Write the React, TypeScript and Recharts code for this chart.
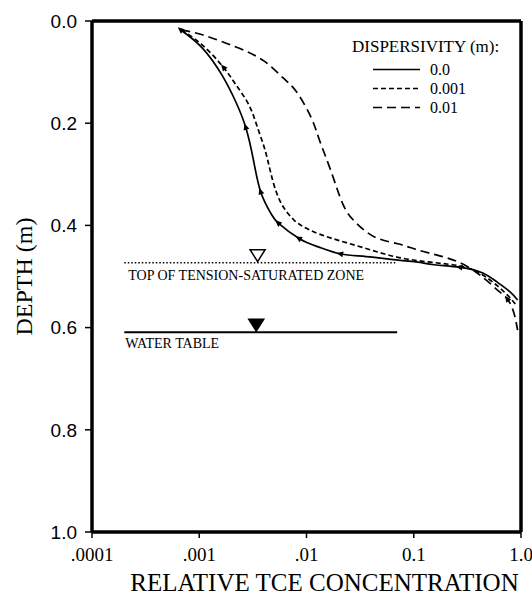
import {
  ComposedChart,
  Legend,
  Line,
  ReferenceLine,
  Scatter,
  XAxis,
  YAxis,
} from "recharts";

const SERIF = '"Liberation Serif", "Times New Roman", serif';
const SANS = '"Liberation Sans", Arial, sans-serif';

// axes
const xTicks = [0.0001, 0.001, 0.01, 0.1, 1];
const xTickLabels = [".0001", ".001", ".01", "0.1", "1.0"];
const yTicks = [0, 0.2, 0.4, 0.6, 0.8, 1.0];
const yTickLabels = ["0.0", "0.2", "0.4", "0.6", "0.8", "1.0"];

// dispersivity series (relative TCE concentration vs depth)
const seriesNames = ["0.0", "0.001", "0.01"];

const conc0 = [
  0.00068, 0.00107, 0.00163, 0.0022, 0.00272, 0.0032, 0.00375, 0.00464, 0.0055, 0.0086,
  0.0129, 0.021, 0.036, 0.071, 0.109, 0.156, 0.272, 0.44, 0.6, 0.79, 0.93,
];
const depth0 = [
  0.018, 0.053, 0.106, 0.159, 0.209, 0.272, 0.335, 0.376, 0.396, 0.426,
  0.442, 0.456, 0.461, 0.468, 0.472, 0.477, 0.482, 0.493, 0.511, 0.53, 0.546,
];
const arrows0 = [0, 4, 6, 8, 9, 11, 16];

const conc1 = [
  0.00068, 0.00107, 0.0017, 0.0022, 0.0029, 0.0035, 0.0041, 0.00464, 0.0056, 0.0076,
  0.0107, 0.017, 0.0344, 0.0697, 0.144, 0.29, 0.44, 0.6, 0.76, 0.92,
];
const depth1 = [
  0.018, 0.047, 0.092, 0.125, 0.164, 0.209, 0.252, 0.297, 0.35, 0.389,
  0.409, 0.425, 0.444, 0.462, 0.472, 0.481, 0.497, 0.518, 0.538, 0.558,
];
const arrows1 = [2];

const conc2 = [
  0.00068, 0.00107, 0.0022, 0.004, 0.0061, 0.0081, 0.0111, 0.0132, 0.017, 0.022, 0.029,
  0.0435, 0.071, 0.109, 0.178, 0.29, 0.45, 0.6, 0.75, 0.86, 0.93,
];
const depth2 = [
  0.018, 0.027, 0.051, 0.078, 0.112, 0.139, 0.19, 0.233, 0.295, 0.36, 0.395,
  0.423, 0.436, 0.448, 0.46, 0.476, 0.503, 0.526, 0.545, 0.572, 0.605,
];
const arrows2 = [18];

const dashes = [undefined, "5 3", "9 5"];

// water levels
const levelSpan = [0.0002, 0.07];
const tensionDepth = 0.473;
const waterDepth = 0.609;
const tensionMarkerConc = 0.0035;
const waterMarkerConc = 0.0034;
const tensionLabel = "TOP OF TENSION-SATURATED ZONE";
const waterLabel = "WATER TABLE";

const toRows = (c: number[], d: number[]) => c.map((v, i) => ({ conc: v, depth: d[i] }));

const series = [
  { rows: toRows(conc0, depth0), arrows: arrows0 },
  { rows: toRows(conc1, depth1), arrows: arrows1 },
  { rows: toRows(conc2, depth2), arrows: arrows2 },
];

const tensionRows = levelSpan.map((c) => ({ conc: c, depth: tensionDepth }));
const waterRows = levelSpan.map((c) => ({ conc: c, depth: waterDepth }));

const arrowDot = (marks: number[]) => (props: any) => {
  const { cx, cy, index, points } = props;
  if (!marks.includes(index) || cx == null) return <g key={`n-${index}`} />;
  const a = points?.[Math.min(index + 1, points.length - 1)] ?? { x: cx + 1, y: cy };
  const b = points?.[Math.max(index - 1, 0)] ?? { x: cx, y: cy };
  const ang = Math.atan2(b.y - a.y, b.x - a.x);
  const c = Math.cos(ang);
  const s = Math.sin(ang);
  const tip = [cx + c * 4.5, cy + s * 4.5];
  const l = [cx - c * 2 - s * 3, cy - s * 2 + c * 3];
  const r = [cx - c * 2 + s * 3, cy - s * 2 - c * 3];
  return (
    <polygon
      key={`a-${index}`}
      points={`${tip[0]},${tip[1]} ${l[0]},${l[1]} ${r[0]},${r[1]}`}
      fill="#000"
    />
  );
};

const downTriangle = (filled: boolean) => (props: any) => {
  const { cx, cy } = props;
  return (
    <path
      d={`M${cx},${cy - 1} L${cx - 7.5},${cy - 13} L${cx + 7.5},${cy - 13} Z`}
      fill={filled ? "#000" : "#fff"}
      stroke="#000"
      strokeWidth={1.5}
    />
  );
};

const levelText = (text: string, dx: number, dy: number) => (props: any) => (
  <text
    x={props.cx + dx}
    y={props.cy + dy}
    fontFamily={SERIF}
    fontSize={14}
    fill="#000"
  >
    {text}
  </text>
);

const renderLegend = () => (
  <div style={{ fontFamily: SERIF, color: "#000" }}>
    <div style={{ fontSize: 17, lineHeight: "19px", height: 19, whiteSpace: "nowrap" }}>
      DISPERSIVITY (m):
    </div>
    <div style={{ marginTop: 4 }}>
      {seriesNames.map((name, i) => (
        <div
          key={name}
          style={{ display: "flex", alignItems: "center", height: 19, paddingLeft: 21 }}
        >
          <svg width={47} height={19}>
            <line
              x1={0}
              x2={47}
              y1={9.5}
              y2={9.5}
              stroke="#000"
              strokeWidth={1.7}
              strokeDasharray={dashes[i]}
            />
          </svg>
          <span style={{ marginLeft: 10, fontSize: 16, lineHeight: "19px" }}>{name}</span>
        </div>
      ))}
    </div>
  </div>
);

export default function App() {
  return (
    <div style={{ position: "absolute", left: 0, top: 0, width: 532, height: 604, background: "#fff" }}>
      <ComposedChart width={532} height={604} margin={{ top: 21, right: 11, bottom: 0, left: 0 }}>
        <XAxis
          dataKey="conc"
          type="number"
          scale="log"
          domain={[0.0001, 1]}
          allowDataOverflow
          ticks={xTicks}
          interval={0}
          tickFormatter={(v) => xTickLabels[xTicks.indexOf(v)] ?? String(v)}
          height={72}
          tickSize={6}
          tickMargin={10}
          axisLine={{ stroke: "#000", strokeWidth: 3.5 }}
          tickLine={{ stroke: "#000", strokeWidth: 1.5 }}
          tick={{ fill: "#000", fontSize: 19, fontFamily: SERIF }}
          label={{
            value: "RELATIVE TCE CONCENTRATION",
            position: "insideBottom",
            offset: 13,
            dx: 18,
            fill: "#000",
            fontSize: 25,
            fontFamily: SERIF,
          }}
        />
        <YAxis
          dataKey="depth"
          type="number"
          domain={[0, 1]}
          reversed
          ticks={yTicks}
          interval={0}
          tickFormatter={(v) => yTickLabels[yTicks.indexOf(v)] ?? String(v)}
          width={92}
          tickSize={7}
          tickMargin={8}
          axisLine={{ stroke: "#000", strokeWidth: 3.5 }}
          tickLine={{ stroke: "#000", strokeWidth: 1.5 }}
          tick={{ fill: "#000", fontSize: 19, fontFamily: SANS }}
          label={{
            value: "DEPTH (m)",
            angle: -90,
            position: "center",
            dx: -23,
            fill: "#000",
            fontSize: 24,
            fontFamily: SERIF,
          }}
        />
        <ReferenceLine y={0} stroke="#000" strokeWidth={3.5} ifOverflow="visible" />
        <ReferenceLine x={1} stroke="#000" strokeWidth={3.5} ifOverflow="visible" />

        <Line
          data={tensionRows}
          dataKey="depth"
          type="linear"
          stroke="#000"
          strokeWidth={1.6}
          strokeDasharray="1.5 2"
          dot={false}
          legendType="none"
          isAnimationActive={false}
        />
        <Line
          data={waterRows}
          dataKey="depth"
          type="linear"
          stroke="#000"
          strokeWidth={2}
          dot={false}
          legendType="none"
          isAnimationActive={false}
        />

        {series.map((s, i) => (
          <Line
            key={seriesNames[i]}
            name={seriesNames[i]}
            data={s.rows}
            dataKey="depth"
            type="natural"
            stroke="#000"
            strokeWidth={1.7}
            strokeDasharray={dashes[i]}
            dot={arrowDot(s.arrows)}
            activeDot={false}
            isAnimationActive={false}
          />
        ))}

        <Scatter
          data={[{ conc: tensionMarkerConc, depth: tensionDepth }]}
          dataKey="depth"
          shape={downTriangle(false)}
          legendType="none"
          isAnimationActive={false}
        />
        <Scatter
          data={[{ conc: waterMarkerConc, depth: waterDepth }]}
          dataKey="depth"
          shape={downTriangle(true)}
          legendType="none"
          isAnimationActive={false}
        />
        <Scatter
          data={[{ conc: levelSpan[0], depth: tensionDepth }]}
          dataKey="depth"
          shape={levelText(tensionLabel, 4, 17)}
          legendType="none"
          isAnimationActive={false}
        />
        <Scatter
          data={[{ conc: levelSpan[0], depth: waterDepth }]}
          dataKey="depth"
          shape={levelText(waterLabel, 1, 16)}
          legendType="none"
          isAnimationActive={false}
        />

        <Legend
          content={renderLegend}
          layout="horizontal"
          verticalAlign="middle"
          align="center"
          wrapperStyle={{ left: 352, top: 37, width: 170, height: 100 }}
        />
      </ComposedChart>
    </div>
  );
}
